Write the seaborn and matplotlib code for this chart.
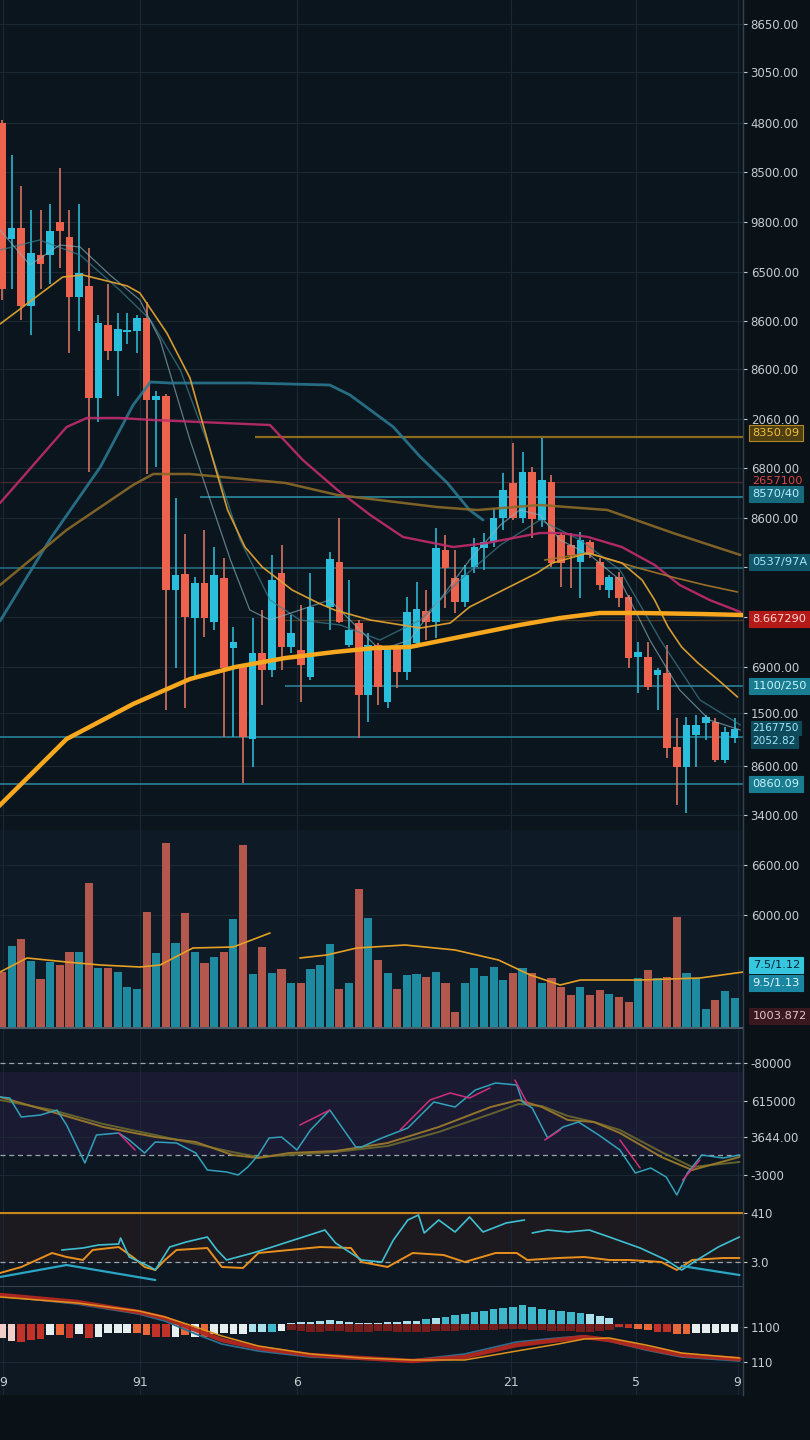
import numpy as np
import pandas as pd
import matplotlib
matplotlib.use("Agg")
import matplotlib.pyplot as plt
from matplotlib.transforms import blended_transform_factory
import seaborn as sns

# ---------------- DATA ----------------
nan = np.nan
opens = [717, 601, 612, 534, 585, 585, 618, 603, 543, 554,
         442, 515, 489, 508, 509, 522, 440, 444, 250, 266,
         222, 257, 218, 262, 192, 174, 101, 187, 170, 267,
         193, 190, 163, nan, 233, 278, 195, 217, 145, 195,
         138, 193, 168, 197, 229, 218, 290, 262, 238, 273,
         292, 298, 322, 357, 322, 368, 320, 358, 305, 295,
         278, 298, 278, 250, 263, 243, 183, 183, 165, 167,
         93, 73, 105, 117, 118, 80, 102]
highs = [720, 685, 654, 630, 630, 636, 672, 630, 636, 592,
         525, 556, 527, 527, 525, 538, 449, 446, 342, 306,
         263, 310, 293, 282, 213, 176, 222, 230, 285, 295,
         225, 235, 267, nan, 288, 322, 260, 220, 207, 197,
         193, 195, 243, 258, 250, 312, 305, 290, 275, 302,
         307, 332, 367, 397, 388, 373, 402, 365, 307, 307,
         308, 300, 282, 265, 268, 245, 198, 198, 172, 195,
         122, 123, 125, 125, 122, 113, 122]
lows = [540, 551, 520, 505, 551, 556, 572, 487, 509, 368,
        418, 480, 444, 496, 487, 366, 373, 130, 172, 132,
        163, 203, 210, 103, 103, 57, 73, 135, 163, 170,
        187, 138, 160, nan, 210, 217, 193, 102, 118, 135,
        132, 152, 160, 192, 200, 202, 232, 227, 233, 267,
        270, 293, 310, 320, 317, 302, 313, 273, 253, 252,
        242, 282, 250, 242, 233, 172, 147, 150, 130, 82,
        35, 27, 73, 100, 78, 77, 97]
closes = [551, 612, 534, 587, 576, 609, 609, 543, 567, 442,
          517, 489, 511, 510, 522, 440, 444, 250, 265, 223,
          257, 222, 265, 172, 198, 103, 187, 170, 260, 193,
          207, 175, 233, nan, 281, 218, 210, 145, 195, 153,
          192, 168, 228, 231, 218, 292, 272, 238, 265, 293,
          298, 322, 350, 322, 368, 321, 360, 277, 277, 285,
          300, 285, 255, 263, 242, 182, 188, 153, 170, 92,
          73, 115, 115, 123, 80, 108, 111]
volumes = [56, 82, 89, 67, 49, 66, 63, 76, 76, 145,
           60, 60, 56, 41, 39, 116, 75, 185, 85, 115,
           76, 65, 71, 76, 109, 183, 54, 81, 55, 59,
           45, 45, 59, 63, 84, 39, 45, 139, 110, 68,
           55, 39, 53, 54, 51, 56, 45, 16, 45, 60,
           52, 61, 48, 55, 60, 55, 45, 50, 41, 33,
           41, 33, 38, 34, 31, 26, 50, 58, 50, 51,
           111, 55, 50, 19, 28, 37, 30]

# moving averages on the price panel (day index, price)
ma200_i = [-0.3, 6.7, 13.6, 19.5, 24.2, 29.4, 34.5, 38.7, 42.3, 48.5, 53.7, 57.9, 62.0, 66.2, 72.4, 76.9]
ma200_p = [34, 101, 136, 161, 173, 182, 188, 192, 193, 205, 215, 222, 227, 227, 226, 225]
ma20_i = [-0.2, 6.3, 8.4, 13.0, 14.3, 17.1, 19.5, 21.8, 23.4, 25.2, 27.0, 30.1, 32.8, 34.5, 38.2,
          43.4, 46.5, 48.5, 52.0, 55.5, 57.1, 60.8, 64.3, 66.4, 67.7, 69.1, 70.5, 72.2, 74.3, 76.3]
ma20_p = [516, 563, 565, 554, 547, 507, 462, 383, 330, 293, 273, 250, 237, 230, 220,
          212, 217, 233, 250, 267, 277, 287, 277, 260, 240, 213, 193, 177, 160, 143]
teal_i = [-0.2, 5.0, 10.2, 13.6, 15.4, 17.4, 25.7, 34.0, 36.1, 40.6, 43.4, 46.2, 48.5, 49.9]
teal_p = [219, 301, 373, 435, 458, 457, 457, 455, 445, 413, 383, 357, 330, 320]
pink_i = [-0.2, 6.7, 8.8, 12.2, 15.7, 27.8, 31.2, 34.8, 38.2, 41.6, 46.8, 50.3, 55.8, 57.9,
          60.8, 64.3, 67.7, 70.3, 73.4, 76.6]
pink_p = [337, 413, 422, 422, 420, 415, 380, 350, 325, 303, 293, 297, 307, 307,
          303, 293, 275, 255, 240, 228]
olive_i = [-0.2, 6.7, 13.6, 15.7, 19.5, 29.4, 34.8, 45.1, 49.3, 55.8, 62.8, 69.6, 76.6]
olive_p = [255, 310, 355, 366, 366, 357, 345, 333, 330, 335, 330, 307, 285]
amber_i = [56.3, 60.8, 66.0, 69.5, 72.9, 76.3]
amber_p = [280, 287, 272, 263, 255, 248]
fast_i = [-0.2, 2.9, 6.0, 8.1, 11.2, 14.3, 16.4, 19.5, 21.6, 23.7, 25.7, 27.8, 30.9, 34.0, 36.1,
          39.2, 42.3, 45.4, 48.5, 51.7, 53.7, 55.8, 57.9, 61.0, 64.1, 67.2, 70.3, 73.4, 76.6]
fast_p = [610, 575, 595, 593, 565, 540, 500, 400, 340, 280, 230, 220, 230, 240, 220,
          190, 200, 240, 280, 315, 330, 325, 300, 285, 260, 200, 150, 120, 110]
slow_i = [-0.2, 3.9, 8.1, 12.2, 15.4, 18.5, 21.6, 24.7, 27.8, 30.9, 35.1, 39.2, 43.4, 47.5,
          51.7, 55.8, 60.0, 64.1, 68.3, 72.4, 76.6]
slow_p = [590, 600, 585, 550, 520, 470, 390, 300, 240, 220, 215, 200, 220, 260,
          295, 320, 300, 270, 200, 140, 115]

# price levels
lvl_gold, lvl_red, lvl_c1, lvl_c2, lvl_brown, lvl_c3, lvl_c4, lvl_c5 = 403, 358, 343, 272, 220, 154, 103, 56

# volume moving average (NaN = break)
vma_i = [-0.2, 2.6, 6.7, 10.2, 14.3, 16.4, 19.8, 24.0, 27.8, nan, 30.9, 33.7, 36.8, 41.8, 47.0,
         51.5, 54.8, 57.9, 60.0, 66.2, 72.4, 76.9]
vma_v = [56, 70, 66, 63, 61, 63, 80, 81, 95, nan, 70, 73, 80, 83, 78, 68, 53, 43, 48, 48, 50, 56]

# oscillator 1
o1_i = [-0.2, 5.2, 10.5, 15.9, 20.1, 23.9, 26.6, 29.8, 34.6, 40.0, 45.3, 50.7, 53.6, 56.0, 58.7,
        61.4, 64.1, 68.4, 71.6, 76.5]
o1_a = [115, 100, 85, 75, 70, 57, 54, 59, 61, 69, 85, 105, 112, 105, 92, 90, 79, 55, 42, 55]
o1_b = [112, 102, 88, 77, 68, 60, 55, 57, 60, 66, 80, 98, 108, 106, 96, 90, 82, 60, 45, 50]
o1f_i = [-0.2, 0.8, 2.0, 4.0, 5.7, 6.7, 8.6, 9.8, 12.1, 13.2, 14.8, 15.9, 18.1, 20.1, 21.3, 23.3,
         24.5, 25.5, 26.6, 27.7, 29.0, 30.6, 32.0, 34.0, 36.7, 37.3, 39.4, 42.1, 44.8, 47.0, 49.1,
         51.2, 53.4, 54.0, 55.0, 56.6, 58.2, 59.8, 61.9, 64.1, 65.7, 67.3, 68.9, 70.0, 71.1, 72.6,
         74.8, 76.5]
o1f_v = [115, 114, 95, 97, 102, 87, 49, 77, 79, 72, 59, 70, 69, 59, 42, 40,
         37, 45, 57, 74, 75, 62, 82, 102, 65, 65, 74, 84, 110, 105, 122,
         129, 127, 110, 104, 74, 85, 90, 77, 62, 39, 44, 35, 17, 39, 57, 54, 57]
o1m_i = [12.1, 13.8, nan, 30.9, 34.0, nan, 41.3, 44.4, 46.5, 48.5, 50.6, nan, 53.2, 54.6, nan,
         56.3, 57.9, nan, 64.1, 66.2, nan, 70.6, 72.4]
o1m_v = [79, 62, nan, 87, 102, nan, 82, 112, 119, 114, 124, nan, 132, 107, nan,
         72, 82, nan, 72, 44, nan, 32, 52]

# oscillator 2
o2o_i = [-0.2, 2.0, 5.2, 6.7, 8.4, 9.4, 12.1, 13.7, 14.8, 15.9, 16.9, 18.1, 21.3, 22.8, 25.0, 26.6,
         29.8, 33.0, 36.2, 37.3, 40.0, 42.6, 45.8, 48.0, 51.2, 53.4, 54.5, 57.7, 60.4, 63.0, 65.1,
         68.4, 70.0, 71.6, 74.8, 76.5]
o2o_v = [14, 20, 34, 30, 27, 37, 40, 29, 20, 17, 27, 37, 39, 20, 19, 34,
         37, 40, 39, 25, 20, 34, 32, 25, 34, 34, 27, 29, 30, 27, 27, 25, 17, 27, 29, 29]
o2c_i = [6.2, 8.4, 10.0, 12.1, 12.3, 13.2, 15.4, 15.9, 17.4, 19.1, 21.3, 22.3, 23.3, 26.0, 27.7,
         33.5, 34.6, 37.3, 39.4, 40.6, 42.1, 43.2, 43.8, 45.3, 47.0, 48.5, 49.9, 52.3, 54.2, nan,
         55.0, 56.6, 58.7, 60.9, 63.0, 66.2, 68.9, 70.5, 72.1, 74.3, 76.5]
o2c_v = [37, 39, 42, 43, 49, 30, 20, 17, 40, 45, 50, 37, 27, 34, 39,
         57, 44, 27, 25, 47, 67, 72, 54, 67, 55, 70, 55, 64, 67, nan,
         54, 57, 55, 57, 50, 39, 27, 17, 27, 40, 50]
o2d_i = [-0.2, 6.7, 15.9, nan, 70.5, 76.5]
o2d_v = [10, 22, 7, nan, 21, 12]

# MACD
macd_i = [-0.2, 7.8, 14.2, 16.9, 20.1, 22.8, 26.6, 32.0, 37.3, 42.6, 48.0, 53.4, 57.7, 60.4, 63.0, 66.8, 70.5, 76.5]
macd_r = [29, 22, 12, 6, -6, -16, -24, -31, -34, -37, -33, -21, -16, -13, -16, -24, -31, -35]
macd_o = [27, 21, 13, 7, -3, -12, -22, -30, -34, -36, -36, -27, -20, -15, -14, -21, -29, -34]
macd_b = [28, 20, 10, 3, -10, -20, -27, -33, -35, -36, -30, -18, -14, -12, -17, -26, -33, -37]
hist = [-14, -17, -18, -16, -15, -11, -11, -14, -10, -14,
        -13, -9, -9, -9, -9, -11, -13, -13, -13, -11,
        -13, -13, -10, -9, -10, -10, -8, -8, -8, -7,
        1, 2, 2, 3, 4, 3, 2, 1, 1, 1,
        2, 2, 3, 3, 5, 6, 7, 9, 10, 12,
        13, 15, 16, 17, 19, 17, 15, 14, 13, 12,
        11, 10, 8, 6, -3, -4, -5, -6, -8, -8,
        -10, -10, -9, -9, -9, -8, -8]
hist_kind = list("pprrrworwr" "wwwwoorrwo" "wowwwwllcw" "llllllllll"
                 "llllclcccc" "cccccccccc" "clllrroorr" "oowwwww")
hist2_i = list(range(30, 64))
hist2_v = [-6, -7, -8, -8, -7, -7, -8, -8, -8, -7, -7, -8, -8, -8, -8, -7, -7,
           -7, -6, -6, -6, -6, -5, -5, -5, -6, -6, -7, -7, -7, -8, -8, -7, -6]

price_ticks = [816, 768, 717, 668, 618, 568, 519, 471, 421, 372, 322, 273, 223, 173, 127, 74, 25]
price_labels = ["8650.00", "3050.00", "4800.00", "8500.00", "9800.00", "6500.00", "8600.00",
                "8600.00", "2060.00", "6800.00", "8600.00", "", "", "6900.00", "1500.00",
                "8600.00", "3400.00"]
vol_ticks, vol_labels = [163, 113], ["6600.00", "6000.00"]
o1_ticks, o1_labels = [149, 111, 75, 37], ["-80000", "615000", "3644.00", "-3000"]
o2_ticks, o2_labels = [74, 25], ["410", "3.0"]
m_ticks, m_labels = [-3, -38], ["1100", "110"]
date_ticks = [0.1, 14.3, 30.6, 52.8, 65.8, 76.3]
date_labels = ["9", "91", "6", "21", "5", "9"]

# ---------------- STYLE ----------------
BG = "#0a1218"
TXT = "#c6ccd1"
GRID = "#1a2833"
SPINE = "#33424d"
RED, CYAN = "#ec624c", "#29bfdc"
VRED, VCYAN = "#b4574c", "#1d8a9f"

sns.set_theme(style="darkgrid", rc={
    "axes.facecolor": "#0b151d", "figure.facecolor": BG, "grid.color": GRID,
    "grid.linewidth": 0.8, "axes.edgecolor": SPINE, "text.color": TXT,
    "xtick.color": TXT, "ytick.color": TXT})
plt.rcParams["font.family"] = ["DejaVu Sans"]

W, H, AXR = 810, 1440, 743
XMIN, XMAX = -2 / 9.64, (AXR - 2) / 9.64

fig = plt.figure(figsize=(W / 100, H / 100), dpi=100)
fig.patch.set_facecolor(BG)


def panel(top, bottom, face):
    ax = fig.add_axes([0, 1 - bottom / H, AXR / W, (bottom - top) / H])
    ax.set_facecolor(face)
    return ax


def style(ax, yt, yl, ylim):
    ax.set_xlim(XMIN, XMAX)
    ax.set_ylim(*ylim)
    for s in ["top", "left", "bottom"]:
        ax.spines[s].set_visible(False)
    ax.spines["right"].set_visible(True)
    ax.spines["right"].set_color(SPINE)
    ax.spines["right"].set_linewidth(1.0)
    ax.yaxis.tick_right()
    ax.set_yticks(yt)
    ax.set_yticklabels(yl)
    ax.tick_params(axis="y", length=3, width=0.8, pad=2.5, labelsize=8.5,
                   colors=TXT, right=True, left=False)
    ax.set_xticks(date_ticks)
    ax.tick_params(axis="x", length=0, labelbottom=False)
    ax.grid(True, color=GRID, lw=0.8)
    ax.set_xlabel("")
    ax.set_ylabel("")


def tag(ax, y, text, fc, tc, ec=None, size=8.2, pad=0.28):
    tr = blended_transform_factory(ax.transAxes, ax.transData)
    kw = {}
    if fc is not None:
        kw["bbox"] = dict(boxstyle=f"square,pad={pad}", fc=fc, ec=ec or fc, lw=0.8)
    ax.text(1.013, y, text, transform=tr, color=tc, fontsize=size, va="center",
            ha="left", zorder=20, clip_on=False, **kw)


def sline(ax, xs, ys, color, lw, alpha=1.0, z=5):
    sns.lineplot(x=xs, y=ys, ax=ax, color=color, linewidth=lw, alpha=alpha,
                 zorder=z, estimator=None, sort=False)


# ---------------- PRICE PANEL ----------------
ax = panel(0, 830, "#0b151d")
df = pd.DataFrame({"o": opens, "h": highs, "l": lows, "c": closes})
df["i"] = np.arange(len(df))
cd = df.dropna()
up = cd["c"] >= cd["o"]
cols = np.where(up, CYAN, RED)
wcols = np.where(up, "#2aa9c2", "#c86c5c")
ax.vlines(cd["i"], cd["l"], cd["h"], colors=wcols, lw=1.3, zorder=3)
bot = np.minimum(cd["o"], cd["c"])
hgt = np.maximum((cd["c"] - cd["o"]).abs(), 2.5)
ax.bar(cd["i"], hgt, bottom=bot, width=0.8, color=cols, linewidth=0, zorder=4)

# levels
ax.hlines(lvl_gold, 26.2, XMAX, color="#8c6c1c", lw=1.6, zorder=2)
ax.hlines(lvl_red, XMIN, XMAX, color="#4a2630", lw=0.9, zorder=2)
ax.hlines(lvl_c1, 20.5, XMAX, color="#2a8aa2", lw=1.2, zorder=2)
ax.hlines(lvl_c2, XMIN, XMAX, color="#236f84", lw=1.1, zorder=2)
ax.hlines(lvl_brown, 28.8, XMAX, color="#4e3a22", lw=1.0, zorder=2)
ax.hlines(lvl_c3, 29.4, XMAX, color="#2a8aa2", lw=1.1, zorder=2)
ax.hlines(lvl_c4, XMIN, XMAX, color="#2a8aa2", lw=1.1, zorder=2)
ax.hlines(lvl_c5, XMIN, XMAX, color="#2a8aa2", lw=1.1, zorder=2)

# moving averages
sline(ax, slow_i, slow_p, "#3d7f90", 1.0, 0.7, 5)
sline(ax, fast_i, fast_p, "#8ab4c0", 0.9, 0.65, 5)
sline(ax, teal_i, teal_p, "#2b7d96", 2.0, 0.85, 5)
sline(ax, pink_i, pink_p, "#c22c6c", 1.7, 0.9, 5)
sline(ax, olive_i, olive_p, "#8c6a28", 1.8, 0.9, 5)
sline(ax, amber_i, amber_p, "#a8782a", 1.2, 0.9, 5)
sline(ax, ma20_i, ma20_p, "#e0a232", 1.2, 0.95, 6)
sline(ax, ma200_i, ma200_p, "#f7a81e", 3.2, 1.0, 7)

style(ax, price_ticks, price_labels, (10, 840))

tag(ax, 407, "8350.09", "#4f3f10", "#f0c040", "#b08a20")
tag(ax, 359, "2657100", None, "#d84848")
tag(ax, 346, "8570/40", "#166a7c", "#b8f0ff")
tag(ax, 278, "0537/97A", "#12566a", "#9ee8ff")
tag(ax, 221, "8.667290", "#b41a18", "#ffd6d0")
tag(ax, 154, "1100/250", "#1a7c90", "#c8f6ff")
tag(ax, 112, "2167750", "#0f4a5a", "#9ee8ff", size=7.6, pad=0.18)
tag(ax, 99, "2052.82", "#0f4a5a", "#9ee8ff", size=7.6, pad=0.18)
tag(ax, 56, "0860.09", "#1a7c90", "#c8f6ff")

# ---------------- VOLUME PANEL ----------------
axv = panel(830, 1030, "#0e1b27")
vdf = pd.DataFrame({"i": np.arange(len(volumes)), "vol": volumes,
                    "dir": np.where(df["c"] < df["o"], "down", "up")})
sns.barplot(data=vdf, x="i", y="vol", hue="dir", palette={"up": VCYAN, "down": VRED},
            native_scale=True, dodge=False, width=0.85, saturation=1, legend=False,
            errorbar=None, linewidth=0, ax=axv, zorder=3)
axv.plot(vma_i, vma_v, color="#e6a024", lw=1.2, zorder=5)
axv.axhline(0, color="#4d5d69", lw=1.4, zorder=6)
style(axv, vol_ticks, vol_labels, (-2, 198))
tag(axv, 63, "7.5/1.12", "#36c6de", "#06263a")
tag(axv, 45, "9.5/1.13", "#1b86a2", "#e0fbff")
tag(axv, 12, "1003.872", "#3a1820", "#e2c6c6")

# ---------------- OSCILLATOR 1 ----------------
ax1 = panel(1030, 1212, "#0d1722")
ax1.axhspan(57, 140, color="#1a1a33", zorder=0.5, lw=0)
for yv in (149, 57):
    ax1.axhline(yv, color="#9aa4ac", lw=0.9, ls=(0, (4, 3)), zorder=2)
sline(ax1, o1_i, o1_b, "#6c6a2e", 1.4, 0.9, 4)
sline(ax1, o1_i, o1_a, "#9a7a2c", 1.4, 0.95, 4)
sline(ax1, o1f_i, o1f_v, "#33a9c2", 1.1, 0.95, 5)
ax1.plot(o1m_i, o1m_v, color="#d0307a", lw=1.1, zorder=6)
style(ax1, o1_ticks, o1_labels, (0, 182))

# ---------------- OSCILLATOR 2 ----------------
ax2 = panel(1212, 1287, "#0d1722")
ax2.axhspan(25, 74, color="#1d1a1f", zorder=0.5, lw=0)
ax2.axhline(74, color="#c8861e", lw=1.6, zorder=2)
ax2.axhline(25.5, color="#9aa4ac", lw=0.9, ls=(0, (4, 3)), zorder=2)
ax2.axhline(0.5, color="#3c4b56", lw=1.2, zorder=2)
sline(ax2, o2o_i, o2o_v, "#e8901e", 1.4, 1.0, 4)
ax2.plot(o2c_i, o2c_v, color="#3ec0d2", lw=1.2, zorder=5)
ax2.plot(o2d_i, o2d_v, color="#2aa6c4", lw=1.6, zorder=5)
style(ax2, o2_ticks, o2_labels, (0, 75))

# ---------------- MACD ----------------
ax3 = panel(1287, 1395, "#0d1822")
hist_pal = {"p": "#f1cfc8", "r": "#c23229", "o": "#e8683a", "w": "#e6eef0",
            "l": "#a9e0ea", "c": "#3fb8cc"}
ax3.bar(hist2_i, hist2_v, width=0.9, color="#8a1e1a", alpha=0.85, linewidth=0, zorder=2)
ax3.bar(np.arange(len(hist)), hist, width=0.8, color=[hist_pal[k] for k in hist_kind],
        linewidth=0, zorder=3)
sline(ax3, macd_i, macd_b, "#2c6e90", 1.3, 1.0, 4)
sline(ax3, macd_i, macd_r, "#b3281e", 3.2, 0.95, 5)
sline(ax3, macd_i, macd_o, "#e0921e", 1.1, 1.0, 6)
style(ax3, m_ticks, m_labels, (-71, 37))
for xt, lb in zip(date_ticks, date_labels):
    ax3.text(xt, -59, lb, color=TXT, fontsize=9, ha="center", va="center", zorder=10)

fig.savefig("out.png", dpi=100, facecolor=BG)
